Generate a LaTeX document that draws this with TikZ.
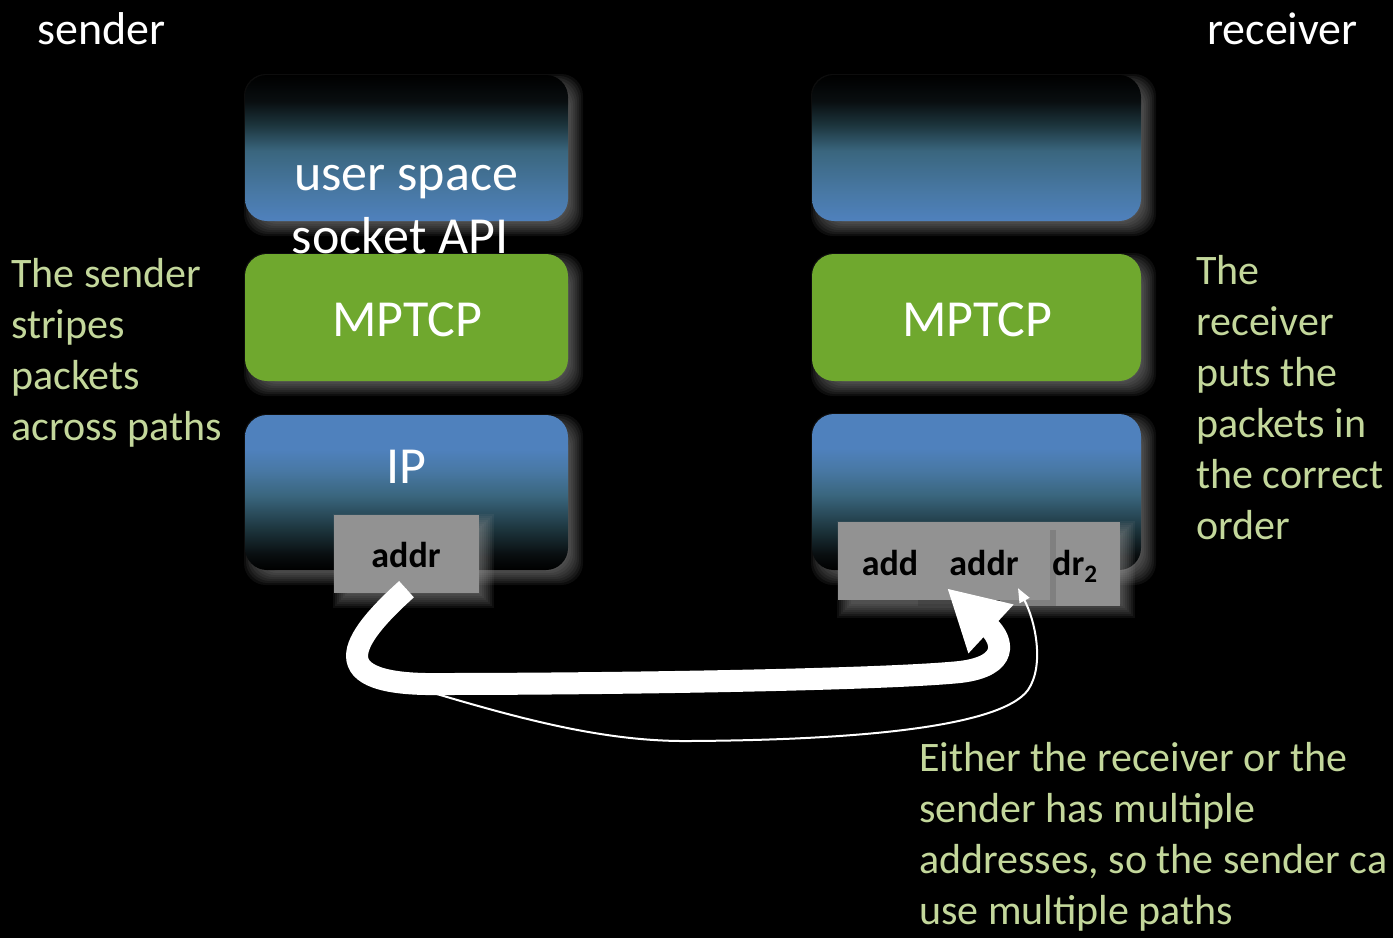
\documentclass[tikz,border=0pt]{standalone}
\usepackage{fontspec}
\setmainfont{Carlito}
\usetikzlibrary{arrows.meta}

\definecolor{boxblue}{RGB}{79,129,189}
\definecolor{midblue}{RGB}{72,120,164}
\definecolor{tealblue}{RGB}{58,102,126}
\definecolor{deepteal}{RGB}{28,52,60}
\definecolor{nearblack}{RGB}{9,14,16}
\definecolor{stackgreen}{RGB}{111,168,46}
\definecolor{addrgray}{RGB}{146,146,146}
\definecolor{notegreen}{RGB}{195,215,155}
\definecolor{glowgray}{RGB}{160,160,160}

% black at the top, blue at the bottom
\pgfdeclareverticalshading{fadeup}{100bp}{%
  color(0bp)=(boxblue); color(25bp)=(boxblue); color(35bp)=(midblue);
  color(49bp)=(tealblue); color(58bp)=(deepteal); color(66bp)=(nearblack);
  color(75bp)=(black); color(100bp)=(black)}
% blue at the top, black at the bottom
\pgfdeclareverticalshading{fadedown}{100bp}{%
  color(0bp)=(black); color(25bp)=(black); color(30bp)=(nearblack);
  color(38bp)=(deepteal); color(49bp)=(tealblue); color(57bp)=(midblue);
  color(64bp)=(boxblue); color(100bp)=(boxblue)}

% soft grey glow offset to the lower right of a box (corner coordinates, y downwards)
\newcommand\glowbehind[5]{%
  \foreach \e in {-6,-4,...,8}{%
    \fill[glowgray, fill opacity=0.085, rounded corners=#5]
      (#1+7-\e,#2+7-\e) rectangle (#3+7+\e,#4+7+\e);}}

\tikzset{
  stackbox/.style={rounded corners=22pt, inner sep=0pt, draw=none},
  upper/.style={stackbox, shading=fadeup},
  lower/.style={stackbox, shading=fadedown},
  mid/.style={stackbox, fill=stackgreen},
  addrbox/.style={rectangle, fill=addrgray, inner sep=0pt},
  boxtext/.style={text=white, inner sep=0pt, anchor=base, font=\fontsize{52}{62}\selectfont},
  addrtext/.style={text=black, inner sep=0pt, anchor=base, font=\fontsize{36}{40}\selectfont\bfseries},
  title/.style={text=white, inner sep=0pt, anchor=base west, font=\fontsize{46}{52}\selectfont},
  note/.style={text=notegreen, inner sep=0pt, anchor=north west, align=left, font=\fontsize{42}{51}\selectfont},
  fatarrow/.style={draw=white, line width=22pt, -{Triangle[length=60pt,width=62pt]}},
  thinarrow/.style={draw=white, line width=2pt, -{Triangle[length=14pt,width=11pt]}}
}

\begin{document}
\begin{tikzpicture}[x=1pt, y=-1pt]
  \fill[black] (0,0) rectangle (1393,938);
  \useasboundingbox (0,0) rectangle (1393,938);

  % glows behind the stacks
  \glowbehind{245}{75}{568}{221}{22pt}
  \glowbehind{245}{254}{568}{381}{22pt}
  \glowbehind{245}{415}{568}{570}{22pt}
  \glowbehind{812}{75}{1141}{221}{22pt}
  \glowbehind{812}{254}{1141}{381}{22pt}
  \glowbehind{812}{414}{1141}{570}{22pt}

  % sender stack
  \node[upper, minimum width=323pt, minimum height=146pt] (su) at (406.5,148) {};
  \node[boxtext] (sut) at (406,190) {user space};
  \node[boxtext] (sus) at (400,253) {socket API};
  \node[mid, minimum width=323pt, minimum height=127pt] (sm) at (406.5,317.5) {};
  \node[boxtext] (smt) at (407,336) {MPTCP};
  \node[lower, minimum width=323pt, minimum height=155pt] (si) at (406.5,492.5) {};
  \node[boxtext] (sit) at (406,483) {IP};

  % receiver stack
  \node[upper, minimum width=329pt, minimum height=146pt] (ru) at (976.5,148) {};
  \node[mid, minimum width=329pt, minimum height=127pt] (rm) at (976.5,317.5) {};
  \node[boxtext] (rmt) at (977,336) {MPTCP};
  \node[lower, minimum width=329pt, minimum height=156pt] (ri) at (976.5,492) {};

  % address boxes
  \glowbehind{334}{515}{479}{593}{0pt}
  \node[addrbox, minimum width=145pt, minimum height=78pt] (sa) at (406.5,554) {};
  \node[addrtext] (sat) at (406,567) {addr};

  \glowbehind{838}{522}{1120}{603}{0pt}
  \node[addrbox, minimum width=122pt, minimum height=78pt] (ra) at (899,561) {};
  \node[addrbox, minimum width=120pt, minimum height=84pt] (rc) at (1060,564) {};
  \fill[black, fill opacity=0.12] (918,530) rectangle (1056,606);
  \node[addrbox, minimum width=132pt, minimum height=78pt] (rb) at (984,561) {};
  \node[addrtext] (rat) at (890,575) {add};
  \node[addrtext] (rbt) at (984,575) {addr};
  \node[addrtext, anchor=base west] (rct) at (1052,575) {dr\textsubscript{2}};

  % paths between the two hosts
  \draw[thinarrow] ([yshift=4pt]sa.south)
      .. controls (350,640) and (320,686) .. (410,686)
      .. controls (510,716) and (600,742) .. (690,741)
      .. controls (850,740) and (1000,728) .. (1028,690)
      .. controls (1045,665) and (1035,620) .. ([xshift=34pt,yshift=12pt]rb.south);
  \draw[fatarrow] ([yshift=4pt]sa.south)
      .. controls (350,640) and (320,686) .. (440,684)
      .. controls (600,684) and (880,680) .. (960,672)
      .. controls (1010,666) and (1003,640) .. ([xshift=-37pt,yshift=12pt]rb.south);

  % titles and notes
  \node[title] (snd) at (37,44) {sender};
  \node[title] (rcv) at (1207,44) {receiver};
  \node[note] (lnote) at (11,258) {The sender\\stripes\\packets\\across paths};
  \node[note] (rnote) at (1196,255) {The\\receiver\\puts the\\packets in\\the correct\\order};
  \node[note] (bnote) at (919,742) {Either the receiver or the\\sender has multiple\\addresses, so the sender ca\\use multiple paths};
\end{tikzpicture}
\end{document}
